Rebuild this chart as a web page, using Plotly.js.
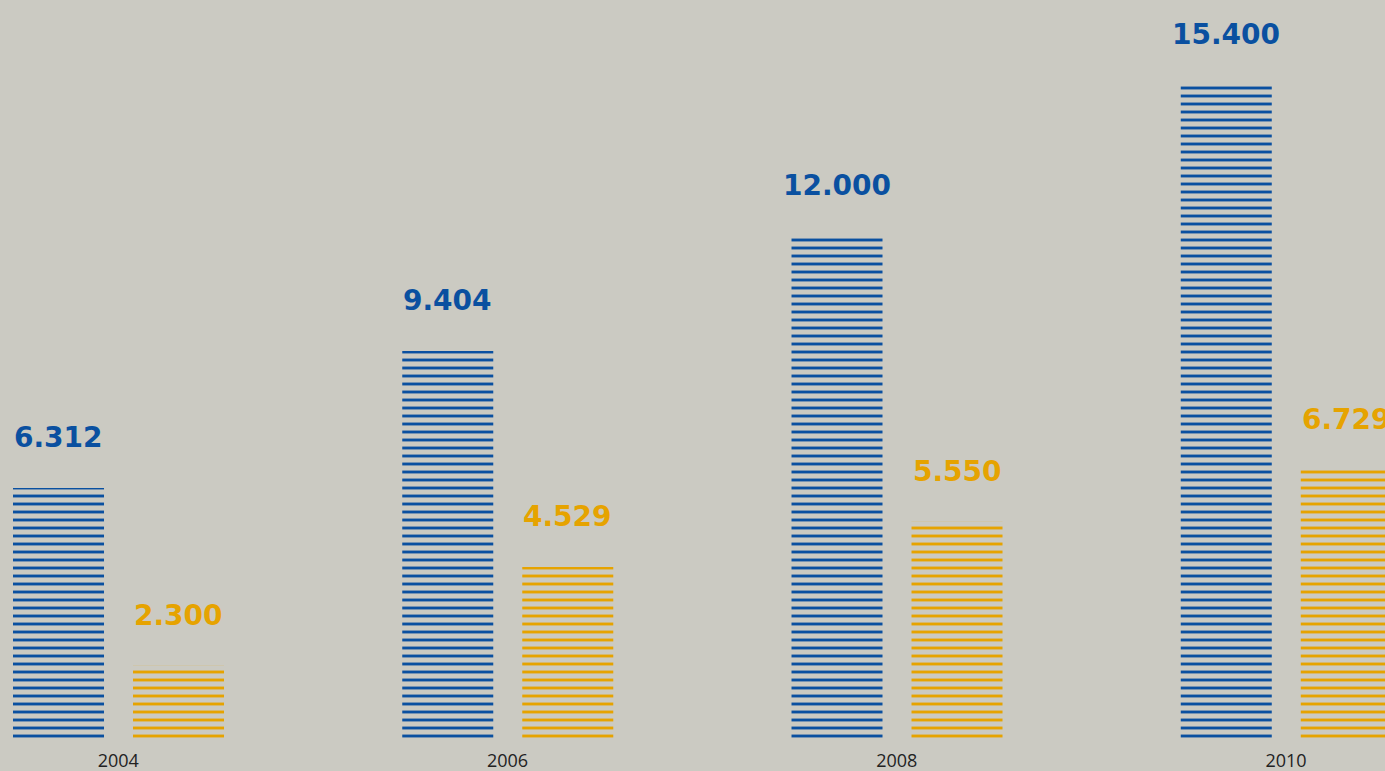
<!DOCTYPE html>
<html>
<head>
<meta charset="utf-8">
<script src="https://cdn.plot.ly/plotly-3.0.1.min.js"></script>
<style>
  html, body { margin: 0; padding: 0; background: #CBCAC2; }
  #chart { width: 1385px; height: 771px; }
</style>
</head>
<body>
<div id="chart"></div>
<script>
const years = ['2004', '2006', '2008', '2010'];
const seriesBlue = [6312, 9404, 12000, 15400];
const seriesGold = [2300, 4529, 5550, 6729];
const labelsBlue = ['6.312', '9.404', '12.000', '15.400'];
const labelsGold = ['2.300', '4.529', '5.550', '6.729'];

const BLUE = '#0A50A0';
const GOLD = '#E6A300';
const BG = '#CBCAC2';

const barWidth = 0.2338;
const blueOffset = -0.2705;
const goldOffset = 0.0378;

function stripeTrace(name, values, color, offset) {
  return {
    type: 'bar',
    name: name,
    x: years,
    y: values,
    width: barWidth,
    offset: offset,
    marker: {
      color: 'rgba(0,0,0,0)',
      line: { width: 0 },
      pattern: {
        shape: '-',
        size: 8,
        solidity: 0.36,
        fgcolor: color,
        bgcolor: 'rgba(0,0,0,0)',
        fgopacity: 1
      }
    },
    hoverinfo: 'skip',
    showlegend: false
  };
}

const traces = [
  stripeTrace('Blue', seriesBlue, BLUE, blueOffset),
  stripeTrace('Gold', seriesGold, GOLD, goldOffset)
];

const annotations = [];
years.forEach((yr, i) => {
  annotations.push({
    x: i + blueOffset + barWidth / 2, y: seriesBlue[i], xref: 'x', yref: 'y',
    text: labelsBlue[i], showarrow: false, yanchor: 'bottom', yshift: 32,
    font: { family: 'DejaVu Sans', size: 28, color: BLUE, weight: 'bold' }
  });
  annotations.push({
    x: i + goldOffset + barWidth / 2, y: seriesGold[i], xref: 'x', yref: 'y',
    text: labelsGold[i], showarrow: false, yanchor: 'bottom', yshift: 32,
    font: { family: 'DejaVu Sans', size: 28, color: GOLD, weight: 'bold' }
  });
});

const layout = {
  width: 1385,
  height: 771,
  paper_bgcolor: BG,
  plot_bgcolor: BG,
  margin: { l: 0, r: 0, t: 4, b: 29, pad: 0 },
  showlegend: false,
  xaxis: {
    type: 'category',
    range: [-0.3039, 3.2542],
    showgrid: false, zeroline: false, showline: false,
    ticks: '',
    ticklabelstandoff: 6,
    tickfont: { family: 'Open Sans', size: 18, color: '#222222' },
    fixedrange: true
  },
  yaxis: {
    range: [582, 17234],
    visible: false,
    showgrid: false, zeroline: false,
    fixedrange: true
  },
  annotations: annotations
};

Plotly.newPlot('chart', traces, layout, { displayModeBar: false, staticPlot: true });
</script>
</body>
</html>
